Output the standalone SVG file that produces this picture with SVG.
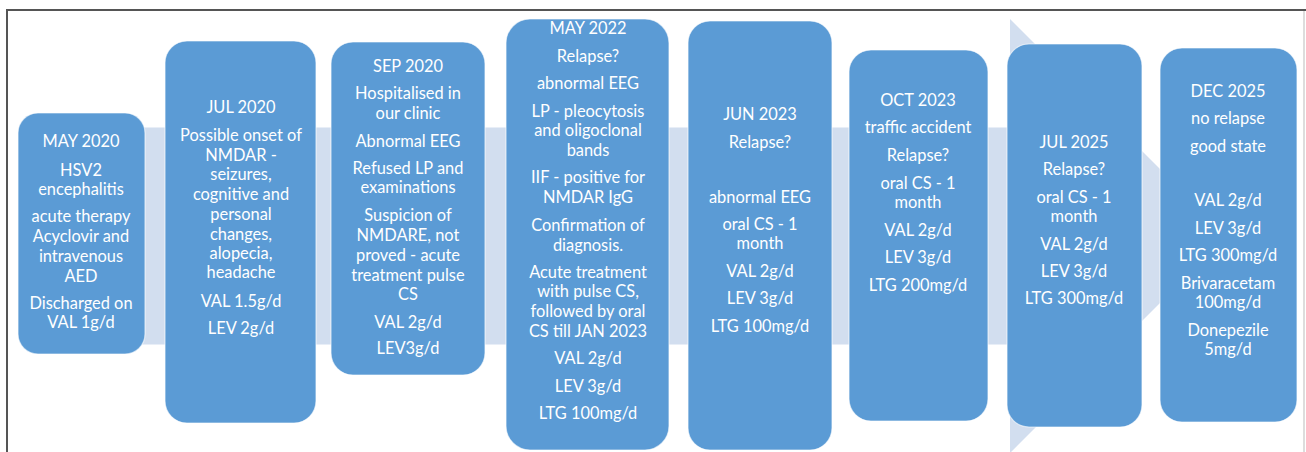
<svg xmlns="http://www.w3.org/2000/svg" width="1306" height="452" viewBox="0 0 1306 452">
<style>
.box{fill:#5B9BD5;stroke:#ffffff;stroke-opacity:0.6;stroke-width:1.2}
.t{font-family:Lato,"Liberation Sans",sans-serif;font-size:16.4px;fill:#ffffff;text-anchor:middle}
.band{fill:#D2DEEF}
</style>
<rect width="1306" height="452" fill="#ffffff"/>
<g id="frame">
<line x1="7" y1="10" x2="1306" y2="10" stroke="#555555" stroke-width="2"/>
<line x1="7" y1="9" x2="7" y2="452" stroke="#555555" stroke-width="2"/>
<line x1="1304" y1="11" x2="1304" y2="452" stroke="#bbbbbb" stroke-width="1"/>
</g>
<g id="connectors">
<path class="band" d="M30,127.5 H1010 V19 L1227,236 L1010,453 V344.5 H30 Z"/>
</g>
<g id="n1">
<rect class="box" x="18" y="113" width="127" height="241" rx="20"/>
<text class="t" x="81"><tspan x="81" y="147">MAY 2020</tspan><tspan x="81" y="176">HSV2</tspan><tspan x="81" y="195">encephalitis</tspan><tspan x="81" y="222">acute therapy</tspan><tspan x="81" y="242">Acyclovir and</tspan><tspan x="81" y="262">intravenous</tspan><tspan x="81" y="282">AED</tspan><tspan x="81" y="309">Discharged on</tspan><tspan x="81" y="328">VAL 1g/d</tspan></text>
</g>
<g id="n2">
<rect class="box" x="165" y="41" width="151" height="382" rx="22"/>
<text class="t"><tspan x="241" y="113">JUL 2020</tspan><tspan x="241" y="141">Possible onset of</tspan><tspan x="241" y="161">NMDAR -</tspan><tspan x="241" y="180">seizures,</tspan><tspan x="241" y="200">cognitive and</tspan><tspan x="241" y="220">personal</tspan><tspan x="241" y="240">changes,</tspan><tspan x="241" y="259">alopecia,</tspan><tspan x="241" y="278">headache</tspan><tspan x="241" y="307">VAL 1.5g/d</tspan><tspan x="241" y="334">LEV 2g/d</tspan></text>
</g>
<g id="n3">
<rect class="box" x="331" y="42" width="154" height="333" rx="22"/>
<text class="t"><tspan x="408" y="72">SEP 2020</tspan><tspan x="408" y="99">Hospitalised in</tspan><tspan x="408" y="119">our clinic</tspan><tspan x="408" y="147">Abnormal EEG</tspan><tspan x="408" y="174">Refused LP and</tspan><tspan x="408" y="193">examinations</tspan><tspan x="408" y="221">Suspicion of</tspan><tspan x="408" y="241">NMDARE, not</tspan><tspan x="408" y="261">proved - acute</tspan><tspan x="408" y="281">treatment pulse</tspan><tspan x="408" y="300">CS</tspan><tspan x="408" y="328">VAL 2g/d</tspan><tspan x="408" y="354">LEV3g/d</tspan></text>
</g>
<g id="n4">
<rect class="box" x="506" y="19" width="163" height="431" rx="24"/>
<text class="t"><tspan x="588" y="34">MAY 2022</tspan><tspan x="588" y="62">Relapse?</tspan><tspan x="588" y="89">abnormal EEG</tspan><tspan x="588" y="117">LP - pleocytosis</tspan><tspan x="588" y="136">and oligoclonal</tspan><tspan x="588" y="156">bands</tspan><tspan x="588" y="183">IIF - positive for</tspan><tspan x="588" y="203">NMDAR IgG</tspan><tspan x="588" y="231">Confirmation of</tspan><tspan x="588" y="251">diagnosis.</tspan><tspan x="588" y="278">Acute treatment</tspan><tspan x="588" y="297">with pulse CS,</tspan><tspan x="588" y="317">followed by oral</tspan><tspan x="588" y="337">CS till JAN 2023</tspan><tspan x="588" y="364">VAL 2g/d</tspan><tspan x="588" y="392">LEV 3g/d</tspan><tspan x="588" y="419">LTG 100mg/d</tspan></text>
</g>
<g id="n5">
<rect class="box" x="688" y="21" width="144" height="429" rx="22"/>
<text class="t"><tspan x="760" y="120">JUN 2023</tspan><tspan x="760" y="148">Relapse?</tspan><tspan x="760" y="203">abnormal EEG</tspan><tspan x="760" y="230">oral CS - 1</tspan><tspan x="760" y="249">month</tspan><tspan x="760" y="277">VAL 2g/d</tspan><tspan x="760" y="304">LEV 3g/d</tspan><tspan x="760" y="332">LTG 100mg/d</tspan></text>
</g>
<g id="n6">
<rect class="box" x="849" y="50" width="139" height="371" rx="22"/>
<text class="t"><tspan x="918" y="106">OCT 2023</tspan><tspan x="918" y="133">traffic accident</tspan><tspan x="918" y="161">Relapse?</tspan><tspan x="918" y="189">oral CS - 1</tspan><tspan x="918" y="208">month</tspan><tspan x="918" y="236">VAL 2g/d</tspan><tspan x="918" y="263">LEV 3g/d</tspan><tspan x="918" y="291">LTG 200mg/d</tspan></text>
</g>
<g id="n7">
<rect class="box" x="1007" y="44" width="135" height="383" rx="22"/>
<text class="t"><tspan x="1074" y="148">JUL 2025</tspan><tspan x="1074" y="175">Relapse?</tspan><tspan x="1074" y="203">oral CS - 1</tspan><tspan x="1074" y="222">month</tspan><tspan x="1074" y="250">VAL 2g/d</tspan><tspan x="1074" y="277">LEV 3g/d</tspan><tspan x="1074" y="304">LTG 300mg/d</tspan></text>
</g>
<g id="n8">
<rect class="box" x="1160" y="48" width="137" height="374" rx="22"/>
<text class="t"><tspan x="1228" y="97">DEC 2025</tspan><tspan x="1228" y="124">no relapse</tspan><tspan x="1228" y="152">good state</tspan><tspan x="1228" y="206">VAL 2g/d</tspan><tspan x="1228" y="234">LEV 3g/d</tspan><tspan x="1228" y="261">LTG 300mg/d</tspan><tspan x="1228" y="289">Brivaracetam</tspan><tspan x="1228" y="308">100mg/d</tspan><tspan x="1228" y="336">Donepezile</tspan><tspan x="1228" y="355">5mg/d</tspan></text>
</g>
</svg>
